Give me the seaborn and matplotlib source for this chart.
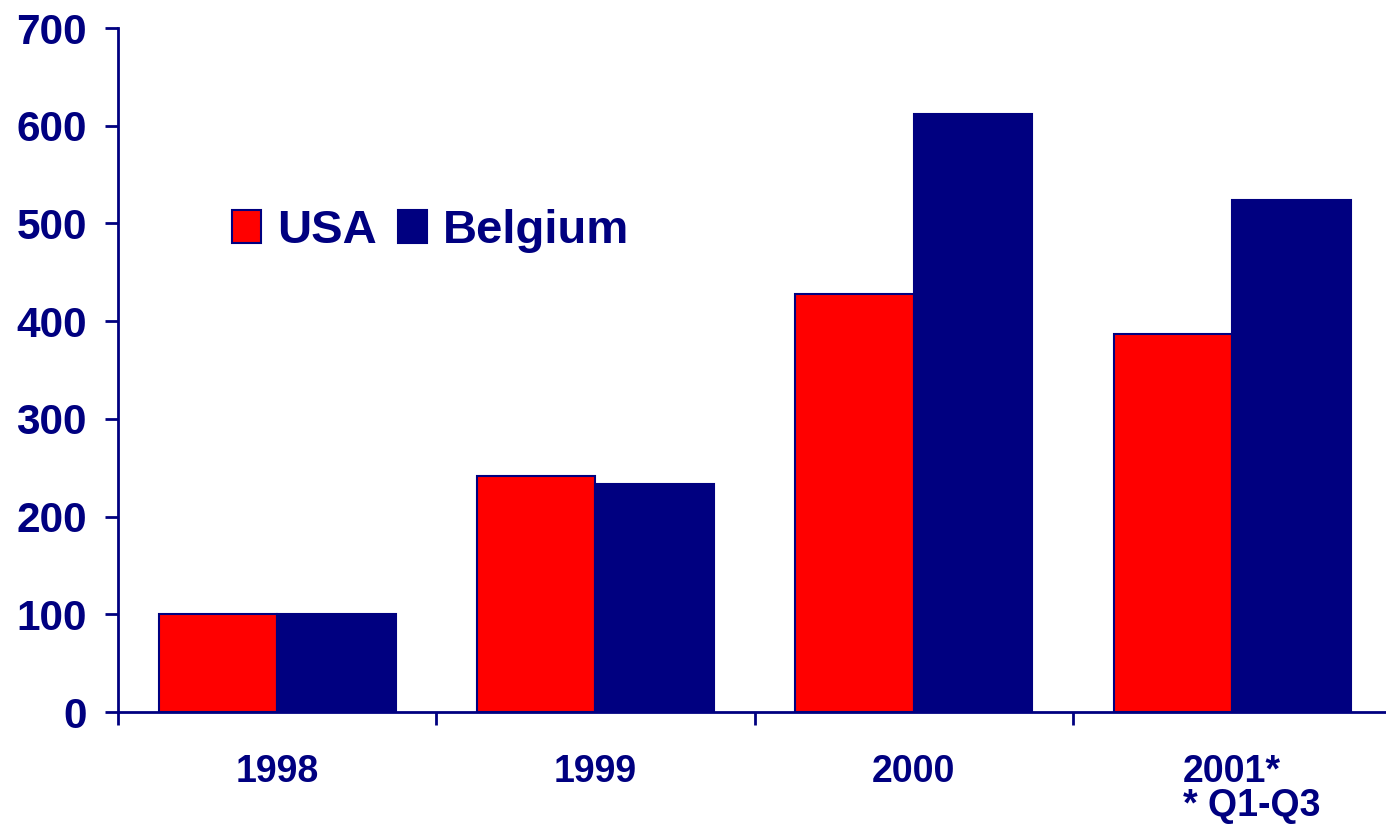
import matplotlib
matplotlib.use("Agg")
import matplotlib.pyplot as plt
from matplotlib.patches import Patch
from matplotlib.ticker import FixedLocator
import pandas as pd
import seaborn as sns

# Index values (1998 = 100)
years = ["1998", "1999", "2000", "2001*"]
usa = [100, 242, 428, 387]
belgium = [100, 233, 612, 524]
countries = ["USA", "Belgium"]
footnote = "* Q1-Q3"

NAVY = "#000080"
RED = "#FF0000"

df = pd.DataFrame({
    "year": years * 2,
    "value": usa + belgium,
    "country": ["USA"] * len(years) + ["Belgium"] * len(years),
})

sns.set_theme(style="white")
plt.rcParams["font.family"] = ["Liberation Sans", "DejaVu Sans"]
plt.rcParams["font.weight"] = "bold"

fig = plt.figure(figsize=(13.86, 8.30), dpi=100)
ax = fig.add_axes([118 / 1386, 118 / 830, 1273.3 / 1386, 684 / 830])

sns.barplot(
    data=df, x="year", y="value", hue="country", hue_order=countries,
    palette=[RED, NAVY], width=0.745, edgecolor=NAVY, linewidth=1.5,
    saturation=1, legend=False, ax=ax,
)

ax.set_xlim(-0.5, len(years) - 0.5)
ax.set_ylim(0, 700)
ax.set_yticks(range(0, 701, 100))
ax.set_xlabel("")
ax.set_ylabel("")

for side in ("top", "right"):
    ax.spines[side].set_visible(False)
for side in ("left", "bottom"):
    ax.spines[side].set_color(NAVY)
    ax.spines[side].set_linewidth(2)

ax.tick_params(axis="y", which="major", direction="out", length=9.5, width=2,
               color=NAVY, labelcolor=NAVY, labelsize=30.5, pad=13, left=True)
for lab in ax.get_yticklabels():
    lab.set_fontweight("bold")

# Category labels centred, tick marks on category boundaries
ax.xaxis.set_minor_locator(FixedLocator([i - 0.5 for i in range(len(years) + 1)]))
ax.tick_params(axis="x", which="major", length=0, labelcolor=NAVY,
               labelsize=27, pad=30)
ax.tick_params(axis="x", which="minor", direction="out", length=9, width=2,
               color=NAVY, bottom=True)
for lab in ax.get_xticklabels():
    lab.set_fontweight("bold")

handles = [Patch(facecolor=RED, edgecolor=NAVY, linewidth=1.5),
           Patch(facecolor=NAVY, edgecolor=NAVY, linewidth=1.5)]
leg = ax.legend(
    handles, countries, loc="center left",
    bbox_to_anchor=(232 / 1386, 1 - 231 / 830), bbox_transform=fig.transFigure,
    ncol=2, frameon=False, borderpad=0, borderaxespad=0,
    handlelength=0.62, handleheight=0.68, handletextpad=0.33,
    columnspacing=0.45, prop={"size": 34, "weight": "bold"},
)
for t in leg.get_texts():
    t.set_color(NAVY)

# Footnote line under the last category label, left-aligned with it
fig.canvas.draw()
last = ax.get_xticklabels()[-1]
bb = last.get_window_extent(renderer=fig.canvas.get_renderer())
x0, y0 = fig.transFigure.inverted().transform((bb.x0, bb.y0))
fig.text(x0, y0 + 2 / 830, footnote, ha="left", va="top", color=NAVY,
         fontsize=27, fontweight="bold")

fig.savefig("out.png", dpi=100)
